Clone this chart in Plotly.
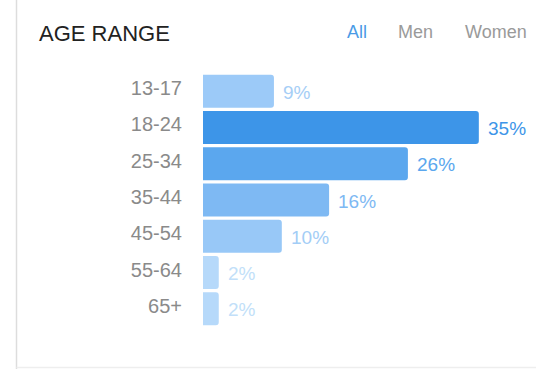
import plotly.graph_objects as go

categories = ["13-17", "18-24", "25-34", "35-44", "45-54", "55-64", "65+"]
values = [9, 35, 26, 16, 10, 2, 2]
labels = ["9%", "35%", "26%", "16%", "10%", "2%", "2%"]
bar_colors = ["#9ccaf8", "#3d95e8", "#5ba7ee", "#7eb9f3", "#98c8f7", "#b6d9fa", "#b6d9fa"]
label_colors = ["#a6cef6", "#3d95e8", "#5ba7ee", "#7eb9f3", "#a3cdf6", "#c2dff9", "#c2dff9"]
filters = ["All", "Men", "Women"]

FONT = "Liberation Sans, Arial, sans-serif"

fig = go.Figure()
fig.add_trace(go.Bar(
    y=categories, x=values, orientation="h",
    marker=dict(color=bar_colors, line=dict(width=0)),
    hoverinfo="skip",
))

for c, v, t, col in zip(categories, values, labels, label_colors):
    fig.add_annotation(x=v, y=c, text=t, showarrow=False, xanchor="left",
                       xshift=7, yshift=-1, font=dict(family=FONT, size=19, color=col))

fig.add_annotation(xref="paper", yref="paper", x=(37 - 203) / 331, y=(369 - 33 - 42) / 254,
                   text="AGE RANGE", showarrow=False, xanchor="left", yanchor="middle",
                   font=dict(family=FONT, size=22, color="#222222"))
filter_x = [345, 396, 463]
filter_colors = ["#4a9be6", "#9a9a9a", "#9a9a9a"]
for f, fx, fc in zip(filters, filter_x, filter_colors):
    fig.add_annotation(xref="paper", yref="paper", x=(fx - 203) / 331, y=(369 - 32 - 42) / 254,
                       text=f, showarrow=False, xanchor="left", yanchor="middle",
                       font=dict(family=FONT, size=18, color=fc))

fig.add_shape(type="line", xref="paper", yref="paper",
              x0=(16.5 - 203) / 331, x1=(16.5 - 203) / 331, y0=-42 / 254, y1=(369 - 42) / 254,
              line=dict(color="#dddddd", width=1.5))
fig.add_shape(type="line", xref="paper", yref="paper",
              x0=(16.5 - 203) / 331, x1=(536 - 203) / 331, y0=-40.5 / 254, y1=-40.5 / 254,
              line=dict(color="#eeeeee", width=1.5))

fig.update_layout(
    width=539, height=369,
    margin=dict(l=203, r=5, t=73, b=42),
    paper_bgcolor="white", plot_bgcolor="white",
    showlegend=False, bargap=0.09, barcornerradius=3,
    xaxis=dict(range=[0, 42], visible=False, fixedrange=True),
    yaxis=dict(categoryorder="array", categoryarray=categories, autorange="reversed",
               showgrid=False, zeroline=False, showline=False, ticks="",
               ticklabelstandoff=20, ticklabelshift=3,
               tickfont=dict(family=FONT, size=20, color="#8a8a8a"), fixedrange=True),
)

fig.write_html("out.html", config={"displayModeBar": False})
